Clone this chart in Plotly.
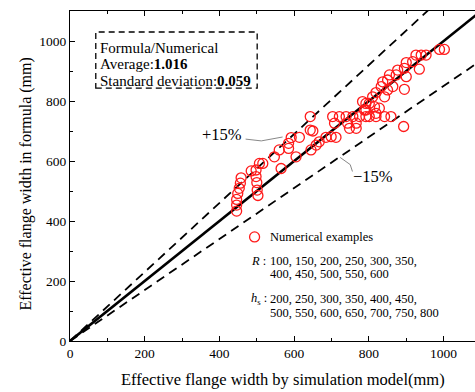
import plotly.graph_objects as go

# Effective flange width: simulation model (x) vs. formula (y), in mm
sim_width = [446, 446, 446, 449, 453, 456, 458, 485, 498, 498, 500, 501, 503, 507,
             516, 547, 560, 565, 585, 585, 592, 605, 614, 643, 643, 650, 645, 659,
             667, 685, 699, 712, 703, 721, 739, 757, 775, 792, 708, 743, 766, 748,
             766, 792, 788, 989, 1002, 953, 940, 926, 917, 900, 895, 935, 877, 873,
             855, 850, 900, 837, 833, 850, 864, 895, 819, 810, 842, 783, 801, 815,
             828, 819, 792, 801, 819, 842, 859, 893]
formula_width = [433, 453, 472, 492, 509, 526, 544, 567, 570, 548, 528, 503, 485, 592,
                 592, 614, 637, 575, 642, 659, 678, 614, 679, 748, 703, 700, 637, 653,
                 664, 679, 681, 679, 748, 748, 748, 748, 748, 748, 726, 726, 726, 709,
                 709, 792, 770, 972, 972, 953, 953, 953, 931, 928, 909, 906, 903, 887,
                 887, 870, 881, 864, 848, 837, 848, 839, 828, 814, 814, 798, 792, 781,
                 776, 759, 770, 748, 748, 748, 748, 715]

line_x = [0, 1100]
ratios = [1.0, 1.15, 0.85]

average_ratio = "1.016"
std_ratio = "0.059"
R_values = ["100, 150, 200, 250, 300, 350,", "400, 450, 500, 550, 600"]
hs_values = ["200, 250, 300, 350, 400, 450,", "500, 550, 600, 650, 700, 750, 800"]

SERIF = "Liberation Serif, Times New Roman, serif"
RED = "#ff1a1a"
MARKER = dict(symbol="circle-open", size=10, color=RED, line=dict(width=1.3, color=RED))

fig = go.Figure()

for r in ratios:
    fig.add_trace(go.Scatter(
        x=line_x, y=[v * r for v in line_x], mode="lines",
        line=dict(color="black", width=2.6 if r == 1.0 else 1.8,
                  dash="solid" if r == 1.0 else "9px,6px"),
        showlegend=False, hoverinfo="skip"))

fig.add_trace(go.Scatter(x=sim_width, y=formula_width, mode="markers",
                         marker=MARKER, showlegend=False))

# legend symbol for the numerical examples
fig.add_trace(go.Scatter(x=[494], y=[347], mode="markers", marker=MARKER,
                         showlegend=False, hoverinfo="skip"))

# leader lines for the ±15% labels
fig.add_trace(go.Scatter(x=[470, 512, 569], y=[673, 667, 680], mode="lines",
                         line=dict(color="#888888", width=1), showlegend=False, hoverinfo="skip"))
fig.add_trace(go.Scatter(x=[723, 750, 756], y=[612, 588, 565], mode="lines",
                         line=dict(color="#888888", width=1), showlegend=False, hoverinfo="skip"))

# dashed box with the statistics
fig.add_shape(type="rect", x0=69, x1=501, y0=843, y1=1030,
              line=dict(color="black", width=1.3, dash="6px,4px"))


def note(x, y, text, size=14, anchor="left"):
    fig.add_annotation(x=x, y=y, text=text, showarrow=False, xanchor=anchor,
                       yanchor="middle", font=dict(family=SERIF, size=size, color="black"))


note(74, 977, "Formula/Numerical", size=15)
note(74, 922, f"Average:<b>{average_ratio}</b>", size=15)
note(74, 868, f"Standard deviation:<b>{std_ratio}</b>", size=15)

note(406, 687, "+15%", size=16.5, anchor="center")
note(812, 550, "\u221215%", size=16.5, anchor="center")

note(531, 347, "Numerical examples", size=12.5)
note(479, 267, "<i>R</i>&nbsp;:", size=12.5)
note(531, 267, R_values[0], size=12.5)
note(531, 223, R_values[1], size=12.5)
note(479, 140, "<i>h</i><sub>s</sub>&nbsp;:", size=12.5)
note(531, 140, hs_values[0], size=12.5)
note(531, 93, hs_values[1], size=12.5)

axis_common = dict(
    showgrid=False, zeroline=False, showline=True, linecolor="black", linewidth=1.2,
    ticks="inside", ticklen=5, tickwidth=1, tickcolor="black",
    tickfont=dict(family=SERIF, size=13.5, color="black"),
    dtick=200, tick0=0,
    minor=dict(ticks="inside", ticklen=3, tickwidth=1, tickcolor="black", dtick=100),
)

fig.update_xaxes(range=[0, 1084], mirror="ticks", **axis_common)
fig.update_yaxes(range=[0, 1100], mirror=False, **axis_common)

# axis titles
fig.add_annotation(xref="paper", yref="paper", x=0.525, y=0, yshift=-38,
                   text="Effective flange width by simulation model(mm)", showarrow=False,
                   xanchor="center", yanchor="middle",
                   font=dict(family=SERIF, size=16.5, color="black"))
fig.add_annotation(xref="paper", yref="paper", x=0, xshift=-44, y=0.474,
                   text="Effective flange width in formula (mm)", showarrow=False,
                   textangle=-90, xanchor="center", yanchor="middle",
                   font=dict(family=SERIF, size=16, color="black"))

fig.update_layout(
    width=475, height=392,
    margin=dict(l=70, r=0, t=11, b=51),
    paper_bgcolor="white", plot_bgcolor="white",
)

fig.write_html("out.html")
